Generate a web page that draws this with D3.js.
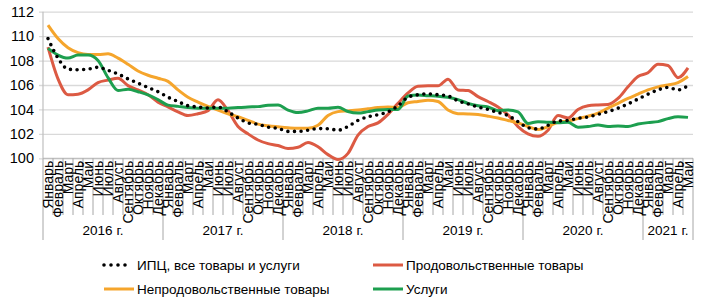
<!DOCTYPE html>
<html>
    <head>
        <meta charset="utf-8">
        <script src="https://d3js.org/d3.v7.min.js"></script>
        <style>
            body { margin: 0; background: #fff; }
            text { font-family: "Liberation Sans Narrow", "Liberation Sans", Arial, sans-serif; fill: #000; }
        </style>
    </head>
    <body>
    <script>
        var w = 709;
        var h = 307;

        var monthNames = ['Январь','Февраль','Март','Апрель','Май','Июнь','Июль','Август','Сентябрь','Октябрь','Ноябрь','Декабрь'];
        var yearLabels = ['2016 г.','2017 г.','2018 г.','2019 г.','2020 г.','2021 г.'];
        var yTicks = [100, 102, 104, 106, 108, 110, 112];

        // ИПЦ, все товары и услуги
        var cpi = [109.8,108.2,107.3,107.25,107.3,107.45,107.2,106.9,106.5,106.15,105.8,105.45,
                   105.0,104.65,104.3,104.2,104.12,104.2,103.8,103.3,102.9,102.78,102.55,102.45,
                   102.2,102.2,102.3,102.43,102.42,102.3,102.6,103.1,103.4,103.57,103.8,104.3,
                   105.0,105.2,105.27,105.2,105.1,104.7,104.45,104.2,104.0,103.75,103.5,103.0,
                   102.5,102.4,102.7,103.05,103.1,103.28,103.38,103.6,103.82,104.1,104.45,104.85,
                   105.25,105.6,105.8,105.6,105.95];
        // Продовольственные товары
        var food = [109.1,106.5,105.2,105.25,105.6,106.2,106.4,106.55,105.95,105.6,105.2,104.6,
                    104.2,103.8,103.5,103.65,103.9,104.8,103.9,102.6,102.0,101.5,101.2,101.05,
                    100.8,100.9,101.3,100.95,100.3,99.9,100.4,101.9,102.6,102.9,103.6,104.5,
                    105.35,105.9,105.93,105.93,106.48,105.6,105.55,105.05,104.65,104.2,103.55,102.6,
                    102.0,101.8,102.3,103.5,103.3,104.0,104.3,104.37,104.4,104.9,105.85,106.7,
                    107.0,107.7,107.6,106.6,107.4];
        // Непродовольственные товары
        var nonFood = [110.9,109.8,109.05,108.65,108.5,108.5,108.55,108.2,107.7,107.15,106.8,106.55,
                       106.3,105.6,105.0,104.6,104.25,103.95,103.65,103.4,103.1,102.8,102.67,102.58,
                       102.5,102.45,102.45,102.7,103.5,103.82,103.88,103.95,104.05,104.15,104.2,104.15,
                       104.55,104.65,104.75,104.65,103.95,103.65,103.63,103.58,103.45,103.3,103.1,102.9,
                       102.6,102.35,102.6,102.95,103.05,103.25,103.45,103.7,104.1,104.5,104.9,105.25,
                       105.6,105.85,106.0,106.2,106.7];
        // Услуги
        var services = [109.0,108.45,108.2,108.45,108.45,108.0,106.6,105.55,105.65,105.45,105.2,104.8,
                        104.35,104.25,104.15,104.1,104.1,104.1,104.1,104.15,104.2,104.23,104.34,104.36,
                        103.95,103.75,103.88,104.1,104.1,104.18,103.83,103.7,103.82,103.95,104.0,104.0,
                        105.1,105.18,105.13,105.08,105.0,104.8,104.5,104.3,104.2,103.9,103.95,103.8,
                        102.85,103.0,102.95,102.92,102.95,102.55,102.6,102.72,102.6,102.65,102.6,102.8,
                        102.92,103.0,103.25,103.4,103.35];

        var series = [
            {name: 'Продовольственные товары', values: food, color: '#dc5a43', dotted: false},
            {name: 'Непродовольственные товары', values: nonFood, color: '#f5a52c', dotted: false},
            {name: 'Услуги', values: services, color: '#1d9f4f', dotted: false},
            {name: 'ИПЦ, все товары и услуги', values: cpi, color: '#000', dotted: true}
        ];

        var n = cpi.length;
        var plotLeft = 43, plotRight = 693, plotTop = 11.7, plotBottom = 158.3;

        var svg = d3.select('body').append('svg')
            .attr('width', w)
            .attr('height', h);

        var xScale = d3.scaleBand()
            .domain(d3.range(n))
            .range([plotLeft, plotRight])
            .padding(0);
        var xEdge = d3.scaleLinear().domain([0, n]).range([plotLeft, plotRight]);
        var yScale = d3.scaleLinear().domain([100, 112]).range([plotBottom, plotTop]);

        // grid + y labels
        var yAxis = d3.axisLeft(yScale)
            .tickValues(yTicks)
            .tickSize(-(plotRight - plotLeft + 4))
            .tickPadding(5)
            .tickFormat(d3.format('d'));
        var gy = svg.append('g')
            .attr('transform', 'translate(' + (plotLeft - 4) + ',0)')
            .call(yAxis);
        gy.select('.domain').remove();
        gy.selectAll('line').attr('stroke', '#d9d9d9').attr('stroke-width', 1.3);
        gy.selectAll('text')
            .style('font-family', '"Liberation Sans", Arial, sans-serif')
            .style('font-size', '14.5px')
            .attr('fill', '#000');

        svg.append('line')
            .attr('x1', plotLeft).attr('x2', plotLeft)
            .attr('y1', plotTop).attr('y2', plotBottom)
            .attr('stroke', '#bfbfbf').attr('stroke-width', 1.2);
        svg.append('line')
            .attr('x1', plotLeft).attr('x2', plotRight)
            .attr('y1', plotBottom).attr('y2', plotBottom)
            .attr('stroke', '#bfbfbf').attr('stroke-width', 1.2);

        // month boundaries, longer at year changes
        svg.append('g').selectAll('line')
            .data(d3.range(n + 1))
            .join('line')
            .attr('x1', function(d){ return xEdge(d) })
            .attr('x2', function(d){ return xEdge(d) })
            .attr('y1', plotBottom)
            .attr('y2', function(d){ return (d % 12 === 0 || d === n) ? 240 : 215 })
            .attr('stroke', '#a6a6a6')
            .attr('stroke-width', 1);

        svg.append('g').selectAll('text')
            .data(d3.range(n))
            .join('text')
            .attr('transform', function(d){
                return 'translate(' + (xScale(d) + xScale.bandwidth() / 2 + 4.5) + ',' + (plotBottom + 2.5) + ') rotate(-90)'
            })
            .attr('text-anchor', 'end')
            .style('font-size', '14px')
            .text(function(d){ return monthNames[d % 12] });

        svg.append('g').selectAll('text')
            .data(yearLabels)
            .join('text')
            .attr('x', function(d, i){ return (xEdge(i * 12) + xEdge(Math.min(i * 12 + 12, n))) / 2 })
            .attr('y', 235)
            .attr('text-anchor', 'middle')
            .style('font-size', '13.5px')
            .text(function(d){ return d });

        var lineFunc = d3.line()
            .x(function(d, i){ return xScale(i) + xScale.bandwidth() / 2 })
            .y(function(d){ return yScale(d) })
            .curve(d3.curveMonotoneX);

        series.forEach(function(s){
            var p = svg.append('path')
                .attr('d', lineFunc(s.values))
                .attr('fill', 'none')
                .attr('stroke', s.color);
            if (s.dotted) {
                p.attr('stroke-width', 3.6)
                 .attr('stroke-linecap', 'round')
                 .attr('stroke-dasharray', '0,6.6');
            } else {
                p.attr('stroke-width', 3)
                 .attr('stroke-linejoin', 'round');
            }
        });

        // legend
        var legendOrder = [series[3], series[0], series[1], series[2]];
        var lg = svg.append('g').selectAll('g')
            .data(legendOrder)
            .join('g')
            .attr('transform', function(d, i){
                return 'translate(' + (i % 2 === 0 ? 103 : 372) + ',' + (i < 2 ? 265 : 289) + ')'
            });
        lg.append('line')
            .attr('x1', 1)
            .attr('x2', function(d){ return d.dotted ? 29 : 31 })
            .attr('stroke', function(d){ return d.color })
            .attr('stroke-width', function(d){ return d.dotted ? 3.6 : 3 })
            .attr('stroke-linecap', function(d){ return d.dotted ? 'round' : 'butt' })
            .attr('stroke-dasharray', function(d){ return d.dotted ? '0,7' : null });
        lg.append('text')
            .attr('x', 34)
            .attr('y', 4.5)
            .style('font-size', '13.5px')
            .text(function(d){ return d.name });
    </script>
    </body>
</html>
